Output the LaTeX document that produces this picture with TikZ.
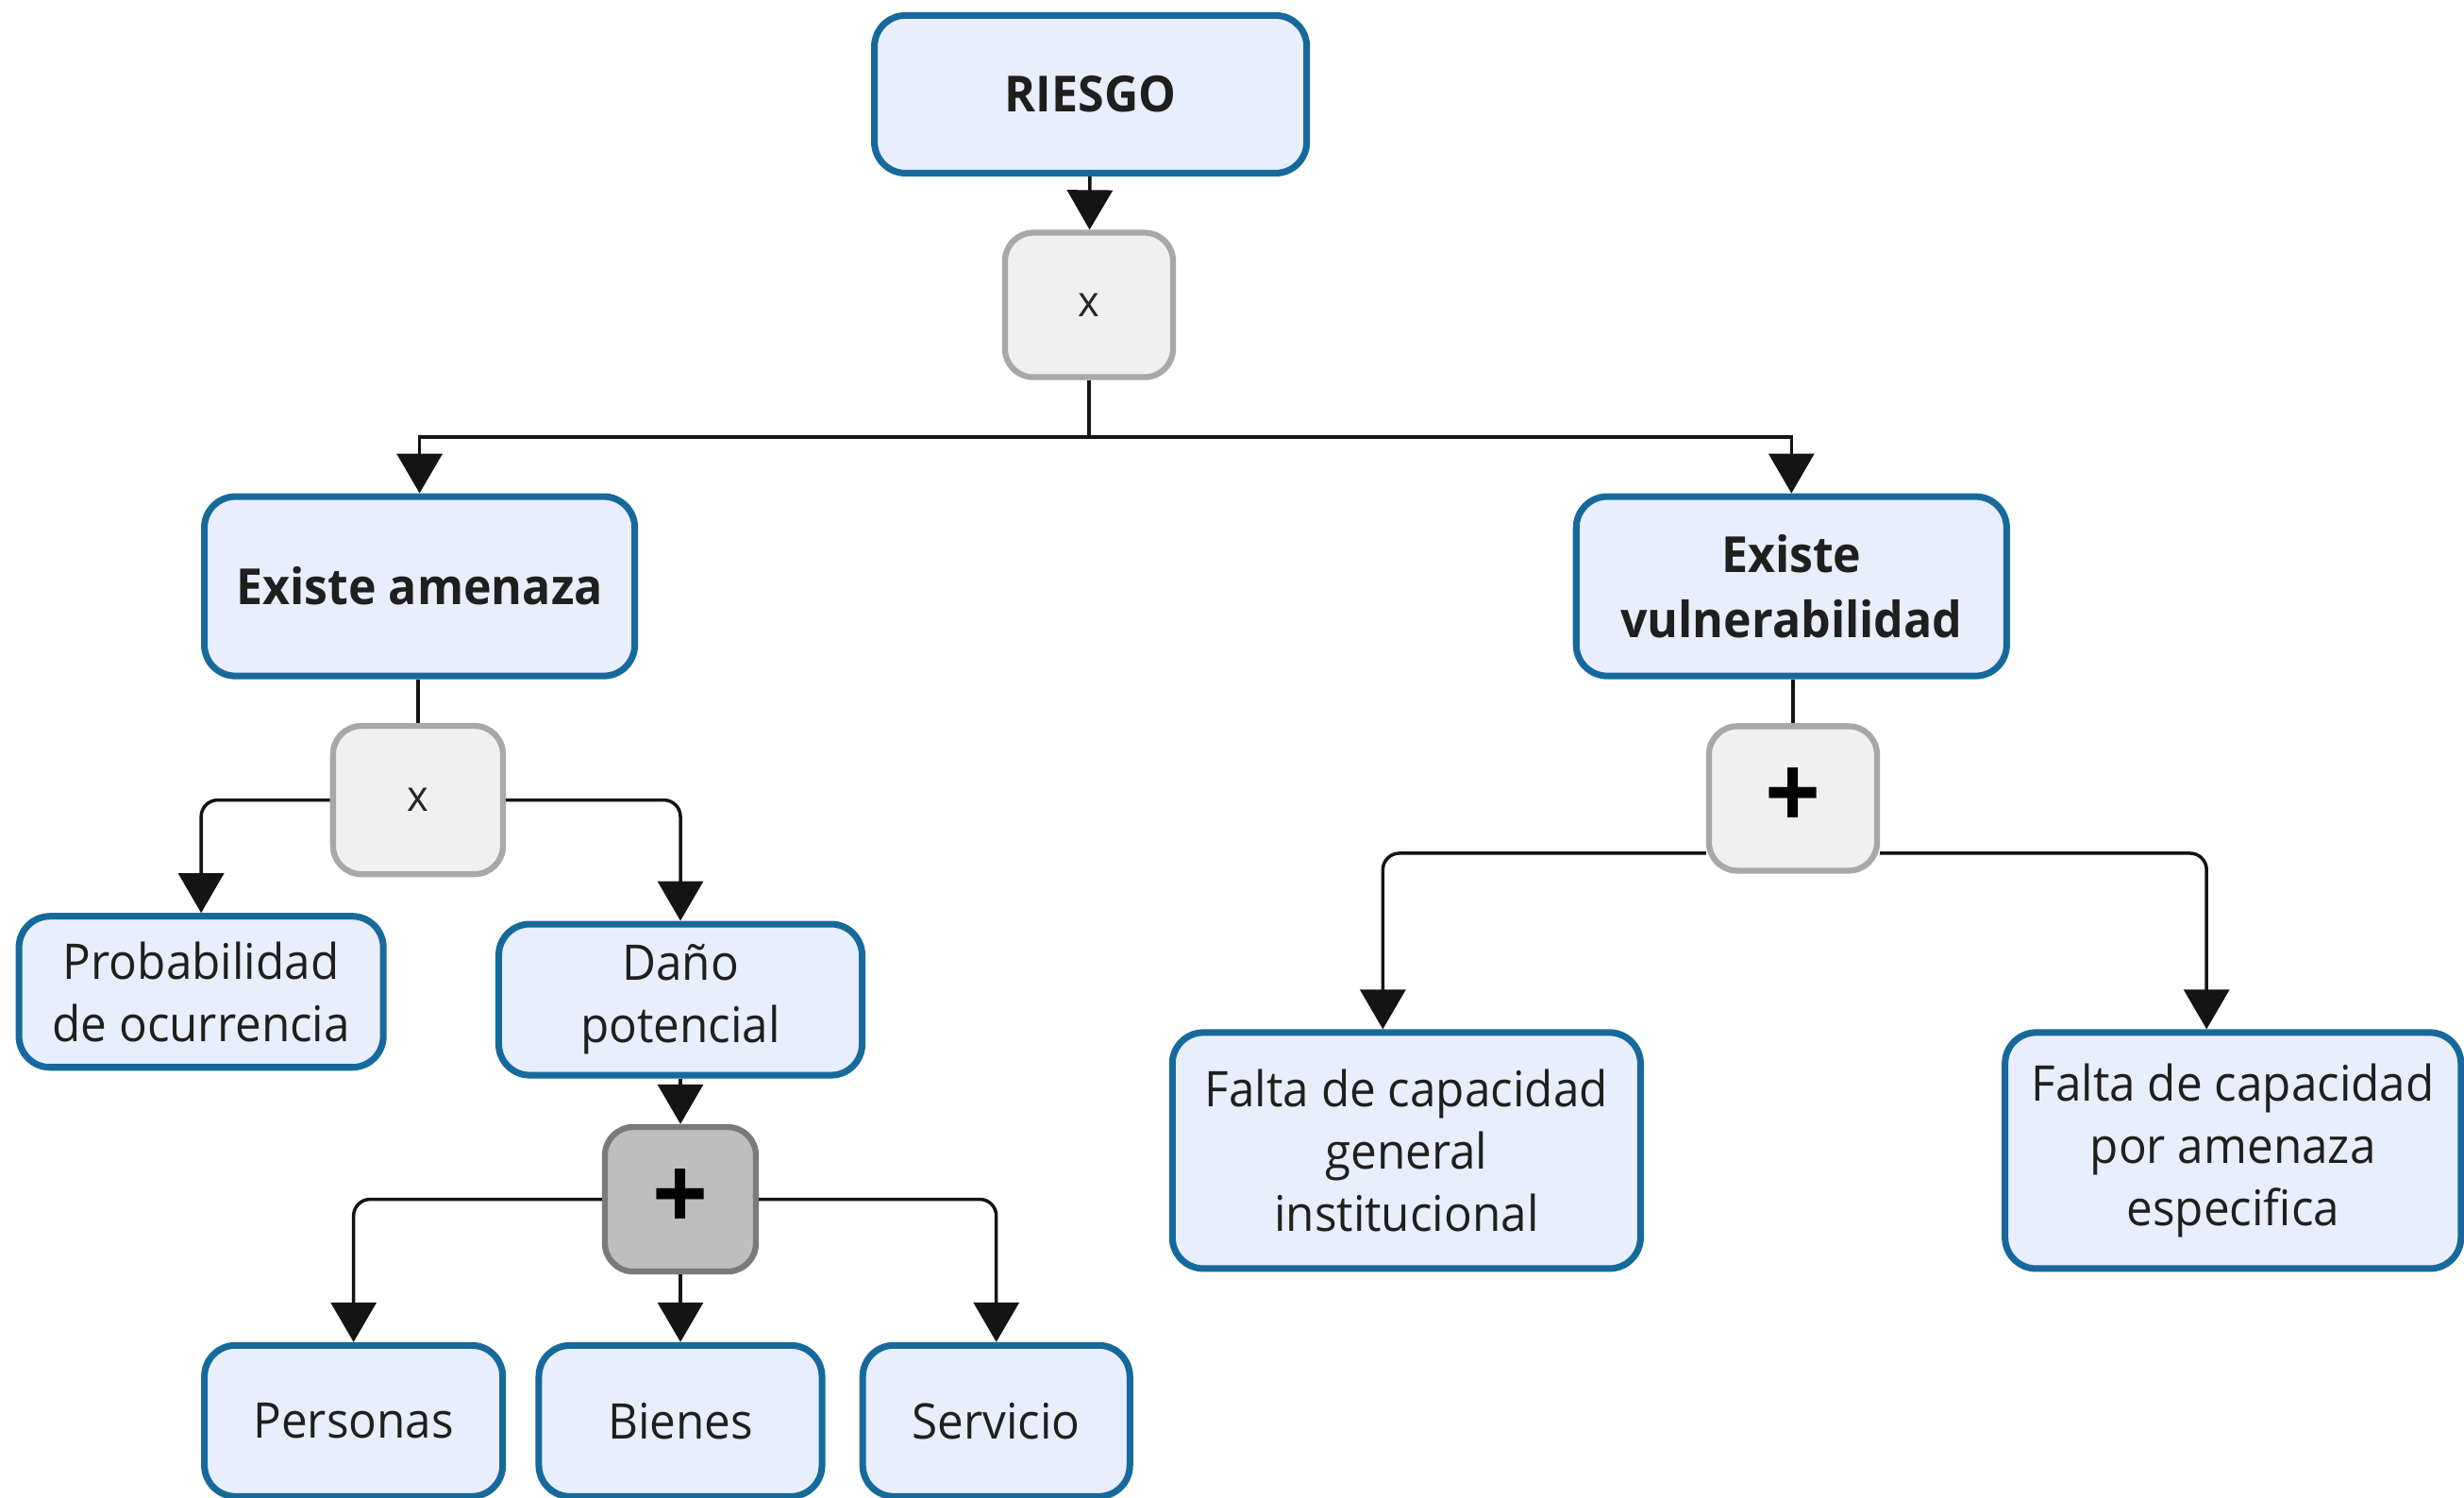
\documentclass[tikz,border=0pt]{standalone}
\usepackage{fontspec}
\setmainfont{Open Sans}[FakeStretch=0.95]
\usetikzlibrary{arrows.meta}
\definecolor{boxblue}{RGB}{22,106,155}
\definecolor{boxfill}{RGB}{233,238,252}
\definecolor{gatefill}{RGB}{240,240,240}
\definecolor{gateline}{RGB}{168,168,168}
\definecolor{darkgatefill}{RGB}{190,190,190}
\definecolor{darkgateline}{RGB}{122,122,122}
\definecolor{linkgray}{RGB}{20,20,20}

\begin{document}
\begin{tikzpicture}[x=0.016652cm, y=-0.016652cm,
    box/.style={draw=boxblue, line width=2pt, fill=boxfill, rounded corners=0.33cm,
        align=center, text=black!88, inner sep=2pt, font=\fontsize{14.8}{18.8}\selectfont},
    bigbox/.style={box, font=\fontsize{15}{19.5}\selectfont\bfseries},
    gate/.style={draw=gateline, line width=1.8pt, fill=gatefill, rounded corners=0.3cm,
        minimum width=1.78cm, minimum height=1.53cm, text=black!85, font=\fontsize{13}{15}\selectfont},
    darkgate/.style={gate, draw=darkgateline, fill=darkgatefill},
    plus/.style={font=\fontsize{31}{33}\selectfont\bfseries, text=black},
    link/.style={draw=linkgray, line width=1pt},
    arrow/.style={link, -{Triangle[width=0.48cm, length=0.42cm]}},
    elbow/.style={arrow, rounded corners=5pt}
]
    \useasboundingbox (0,0) rectangle (1568,953);

    % Top
    \node[bigbox, minimum width=4.58cm, minimum height=1.67cm] (riesgo) at (694,60) {RIESGO};
    \node[gate] (gateA) at (693,194) {x};
    \coordinate (splitA) at (693,278);

    % Left branch
    \node[bigbox, minimum width=4.56cm, minimum height=1.9cm] (amenaza) at (267,373) {Existe amenaza};
    \node[gate, minimum width=1.8cm, minimum height=1.57cm] (gateB) at (266,509) {x};
    \node[box, minimum width=3.86cm, minimum height=1.6cm] (proba) at (128,631) {Probabilidad\\de ocurrencia};
    \node[box, minimum width=3.85cm, minimum height=1.6cm] (dano) at (433,636) {Daño\\potencial};
    \node[darkgate, plus, minimum width=1.6cm, minimum height=1.53cm] (gateC) at (433,763) {+};
    \node[box, minimum width=3.16cm, minimum height=1.6cm] (personas) at (225,904) {Personas};
    \node[box, minimum width=3.0cm, minimum height=1.6cm] (bienes) at (433,904) {Bienes};
    \node[box, minimum width=2.83cm, minimum height=1.6cm] (servicio) at (634,904) {Servicio};

    % Right branch
    \node[bigbox, minimum width=4.56cm, minimum height=1.9cm] (vulnera) at (1140,373) {Existe\\vulnerabilidad};
    \node[gate, plus] (gateD) at (1141,508) {+};
    \node[box, minimum width=4.96cm, minimum height=2.5cm] (falta1) at (895,732) {Falta de capacidad\\general\\institucional};
    \node[box, minimum width=4.83cm, minimum height=2.5cm] (falta2) at (1421,732) {Falta de capacidad\\por amenaza\\especifica};

    % Connectors
    \draw[arrow] (riesgo) -- (gateA);
    \draw[link] (gateA) -- (splitA);
    \draw[arrow] (splitA) -| (amenaza);
    \draw[arrow] (splitA) -| (vulnera);
    \draw[link] (gateB.north) -- (gateB.north |- amenaza.south);
    \draw[elbow] (gateB.west) -| (proba.north);
    \draw[elbow] (gateB.east) -| (dano.north);
    \draw[arrow] (dano) -- (gateC);
    \draw[elbow] (gateC.west) -| (personas.north);
    \draw[arrow] (gateC) -- (bienes);
    \draw[elbow] (gateC.east) -| (servicio.north);
    \draw[link] (gateD.north) -- (gateD.north |- vulnera.south);
    \draw[elbow] ([yshift=-0.58cm]gateD.west) -| ([xshift=-0.25cm]falta1.north);
    \draw[elbow] ([yshift=-0.58cm]gateD.east) -| ([xshift=-0.28cm]falta2.north);
\end{tikzpicture}
\end{document}
